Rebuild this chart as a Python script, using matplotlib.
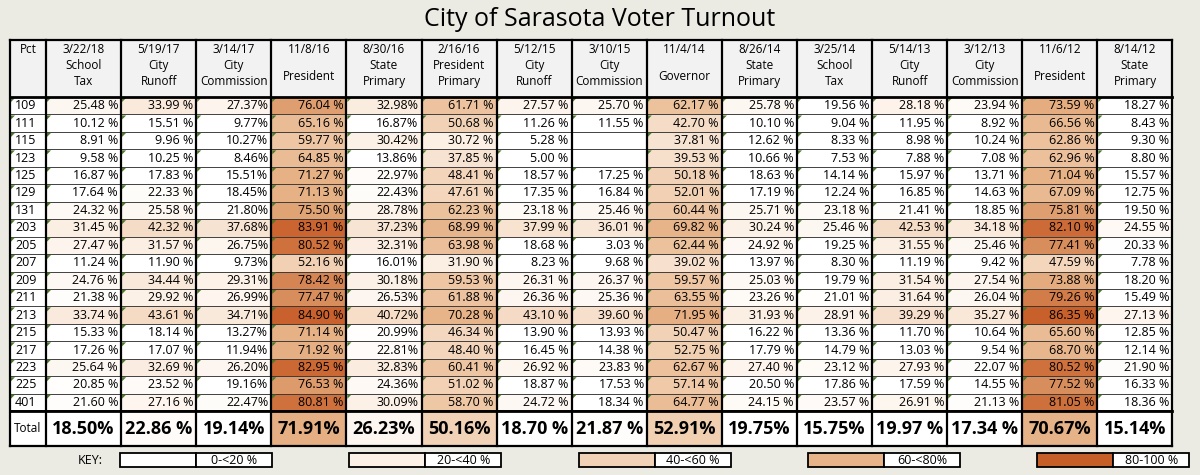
import matplotlib.pyplot as plt
from matplotlib.patches import Rectangle, Polygon
from matplotlib.colors import LinearSegmentedColormap

plt.rcParams["font.family"] = ["Open Sans", "DejaVu Sans"]

dates = ["3/22/18", "5/19/17", "3/14/17", "11/8/16", "8/30/16", "2/16/16", "5/12/15",
         "3/10/15", "11/4/14", "8/26/14", "3/25/14", "5/14/13", "3/12/13", "11/6/12", "8/14/12"]
races = ["School\nTax", "City\nRunoff", "City\nCommission", "President", "State\nPrimary",
         "President\nPrimary", "City\nRunoff", "City\nCommission", "Governor", "State\nPrimary",
         "School\nTax", "City\nRunoff", "City\nCommission", "President", "State\nPrimary"]
precincts = ["109", "111", "115", "123", "125", "129", "131", "203", "205", "207",
             "209", "211", "213", "215", "217", "223", "225", "401"]

turnout = [
    [25.48, 33.99, 27.37, 76.04, 32.98, 61.71, 27.57, 25.70, 62.17, 25.78, 19.56, 28.18, 23.94, 73.59, 18.27],
    [10.12, 15.51, 9.77, 65.16, 16.87, 50.68, 11.26, 11.55, 42.70, 10.10, 9.04, 11.95, 8.92, 66.56, 8.43],
    [8.91, 9.96, 10.27, 59.77, 30.42, 30.72, 5.28, None, 37.81, 12.62, 8.33, 8.98, 10.24, 62.86, 9.30],
    [9.58, 10.25, 8.46, 64.85, 13.86, 37.85, 5.00, None, 39.53, 10.66, 7.53, 7.88, 7.08, 62.96, 8.80],
    [16.87, 17.83, 15.51, 71.27, 22.97, 48.41, 18.57, 17.25, 50.18, 18.63, 14.14, 15.97, 13.71, 71.04, 15.57],
    [17.64, 22.33, 18.45, 71.13, 22.43, 47.61, 17.35, 16.84, 52.01, 17.19, 12.24, 16.85, 14.63, 67.09, 12.75],
    [24.32, 25.58, 21.80, 75.50, 28.78, 62.23, 23.18, 25.46, 60.44, 25.71, 23.18, 21.41, 18.85, 75.81, 19.50],
    [31.45, 42.32, 37.68, 83.91, 37.23, 68.99, 37.99, 36.01, 69.82, 30.24, 25.46, 42.53, 34.18, 82.10, 24.55],
    [27.47, 31.57, 26.75, 80.52, 32.31, 63.98, 18.68, 3.03, 62.44, 24.92, 19.25, 31.55, 25.46, 77.41, 20.33],
    [11.24, 11.90, 9.73, 52.16, 16.01, 31.90, 8.23, 9.68, 39.02, 13.97, 8.30, 11.19, 9.42, 47.59, 7.78],
    [24.76, 34.44, 29.31, 78.42, 30.18, 59.53, 26.31, 26.37, 59.57, 25.03, 19.79, 31.54, 27.54, 73.88, 18.20],
    [21.38, 29.92, 26.99, 77.47, 26.53, 61.88, 26.36, 25.36, 63.55, 23.26, 21.01, 31.64, 26.04, 79.26, 15.49],
    [33.74, 43.61, 34.71, 84.90, 40.72, 70.28, 43.10, 39.60, 71.95, 31.93, 28.91, 39.29, 35.27, 86.35, 27.13],
    [15.33, 18.14, 13.27, 71.14, 20.99, 46.34, 13.90, 13.93, 50.47, 16.22, 13.36, 11.70, 10.64, 65.60, 12.85],
    [17.26, 17.07, 11.94, 71.92, 22.81, 48.40, 16.45, 14.38, 52.75, 17.79, 14.79, 13.03, 9.54, 68.70, 12.14],
    [25.64, 32.69, 26.20, 82.95, 32.83, 60.41, 26.92, 23.83, 62.67, 27.40, 23.12, 27.93, 22.07, 80.52, 21.90],
    [20.85, 23.52, 19.16, 76.53, 24.36, 51.02, 18.87, 17.53, 57.14, 20.50, 17.86, 17.59, 14.55, 77.52, 16.33],
    [21.60, 27.16, 22.47, 80.81, 30.09, 58.70, 24.72, 18.34, 64.77, 24.15, 23.57, 26.91, 21.13, 81.05, 18.36],
]
totals = [18.50, 22.86, 19.14, 71.91, 26.23, 50.16, 18.70, 21.87, 52.91, 19.75, 15.75, 19.97, 17.34, 70.67, 15.14]
# whether the column prints "xx.xx %" (with space) or "xx.xx%"
cell_space = [True, True, False, True, False, True, True, True, True, True, True, True, True, True, True]
total_space = [False, True, False, False, False, False, True, True, False, False, False, True, True, False, False]
key_labels = ["0-<20 %", "20-<40 %", "40-<60 %", "60-<80%", "80-100 %"]
key_values = [5, 30, 50, 70, 90]

cmap = LinearSegmentedColormap.from_list(
    "turn", [(0, "#ffffff"), (0.2, "#ffffff"), (0.3, "#fcf1e7"), (0.4, "#f6dfcb"),
             (0.6, "#eec6a3"), (0.75, "#e3aa7c"), (0.8, "#cf7440"), (0.85, "#c8612d"),
             (1.0, "#c2571f")])


def fmt(v, space):
    return f"{v:.2f} %" if space else f"{v:.2f}%"


fig = plt.figure(figsize=(12, 4.75), dpi=100, facecolor="#ecebe3")
ax = fig.add_axes([0, 0, 1, 1])
ax.set_xlim(0, 1200)
ax.set_ylim(475, 0)
ax.axis("off")

ax.text(600, 20, "City of Sarasota Voter Turnout", ha="center", va="center", fontsize=18)

x0, pct_w, col_w = 10, 36, 75.1
head_top, head_bot = 40, 97
row_h = 17.45
tot_top = head_bot + row_h * len(precincts)
tot_bot = tot_top + 35

col_x = [x0 + pct_w + i * col_w for i in range(len(dates))]
right = col_x[-1] + col_w

# header
ax.add_patch(Rectangle((x0, head_top), right - x0, head_bot - head_top, fc="#f2f2f2", ec="none"))
ax.text(x0 + pct_w / 2, head_top + 3, "Pct", ha="center", va="top", fontsize=8.5)
for i, cx in enumerate(col_x):
    mid = cx + col_w / 2
    if "\n" in races[i]:
        ax.text(mid, head_top + 3, dates[i] + "\n" + races[i], ha="center", va="top",
                fontsize=8.5, linespacing=1.3)
    else:
        ax.text(mid, head_top + 3, dates[i], ha="center", va="top", fontsize=8.5)
        ax.text(mid, head_top + 36, races[i], ha="center", va="center", fontsize=8.5)

# body
for r, p in enumerate(precincts):
    y = head_bot + r * row_h
    ax.add_patch(Rectangle((x0, y), pct_w, row_h, fc="white", ec="#333333", lw=0.6))
    ax.text(x0 + 5, y + row_h / 2, p, ha="left", va="center", fontsize=9)
    ax.add_patch(Polygon([[x0 + 1, y + 1], [x0 + 5, y + 1], [x0 + 1, y + 5]], fc="#4b7a2a", ec="none"))
    for c, cx in enumerate(col_x):
        v = turnout[r][c]
        fc = "white" if v is None else cmap(min(v, 100) / 100)
        ax.add_patch(Rectangle((cx, y), col_w, row_h, fc=fc, ec="#333333", lw=0.6))
        if v is not None:
            ax.text(cx + col_w - 3, y + row_h / 2, fmt(v, cell_space[c]), ha="right", va="center", fontsize=9)
            ax.add_patch(Polygon([[cx + 1, y + 1], [cx + 5, y + 1], [cx + 1, y + 5]], fc="#4b7a2a", ec="none"))

# total row
ax.add_patch(Rectangle((x0, tot_top), pct_w, tot_bot - tot_top, fc="white", ec="black", lw=1.2))
ax.text(x0 + pct_w / 2, (tot_top + tot_bot) / 2, "Total", ha="center", va="center", fontsize=8.5)
for c, cx in enumerate(col_x):
    ax.add_patch(Rectangle((cx, tot_top), col_w, tot_bot - tot_top, fc=cmap(totals[c] / 100), ec="black", lw=1.2))
    ax.text(cx + col_w / 2, (tot_top + tot_bot) / 2, fmt(totals[c], total_space[c]),
            ha="center", va="center", fontsize=13, fontweight="bold")

# heavy grid lines
for xv in [x0, x0 + pct_w] + col_x[1:] + [right]:
    ax.plot([xv, xv], [head_top, tot_bot], color="black", lw=1.6)
for yv in [head_top, head_bot, tot_top, tot_bot]:
    ax.plot([x0, right], [yv, yv], color="black", lw=2.0 if yv in (head_bot, tot_top) else 1.6)

# key
ky, kh = 453, 14
ax.text(90, ky + kh / 2, "KEY:", ha="center", va="center", fontsize=9)
for k, (lab, kv) in enumerate(zip(key_labels, key_values)):
    sx = 120 + k * 229.3
    ax.add_patch(Rectangle((sx, ky), 76, kh, fc=cmap(kv / 100), ec="black", lw=1.3))
    ax.add_patch(Rectangle((sx + 76, ky), 76, kh, fc="white", ec="black", lw=1.3))
    ax.text(sx + 114, ky + kh / 2, lab, ha="center", va="center", fontsize=9)

fig.savefig("out.png", dpi=100, facecolor=fig.get_facecolor())
